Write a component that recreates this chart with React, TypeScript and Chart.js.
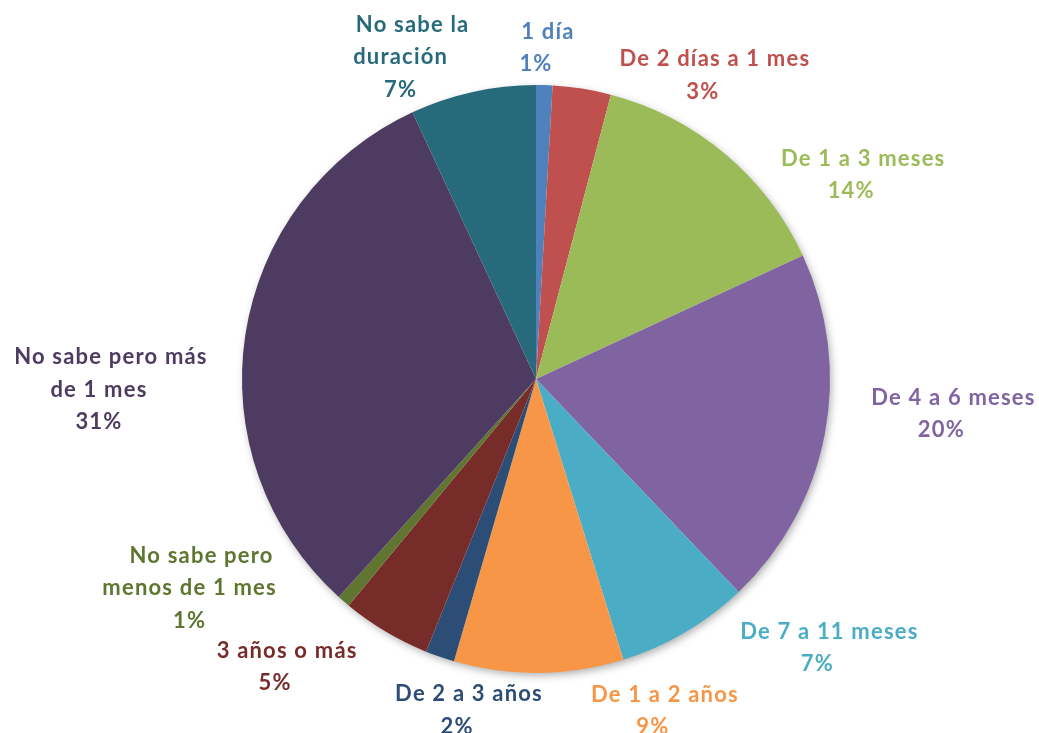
import React, { useEffect, useRef } from "react";
import { Chart, registerables } from "chart.js";

Chart.register(...registerables);

const categories = [
  "1 día",
  "De 2 días a 1 mes",
  "De 1 a 3 meses",
  "De 4 a 6 meses",
  "De 7 a 11 meses",
  "De 1 a 2 años",
  "De 2 a 3 años",
  "3 años o más",
  "No sabe pero menos de 1 mes",
  "No sabe pero más de 1 mes",
  "No sabe la duración",
];

const values = [0.9, 3.2, 14.0, 19.8, 7.3, 9.3, 1.6, 4.9, 0.7, 31.4, 6.9];

const labelLines = [
  ["1 día"],
  ["De 2 días a 1 mes"],
  ["De 1 a 3 meses"],
  ["De 4 a 6 meses"],
  ["De 7 a 11 meses"],
  ["De 1 a 2 años"],
  ["De 2 a 3 años"],
  ["3 años o más"],
  ["No sabe pero", "menos de 1 mes"],
  ["No sabe pero más", "de 1 mes"],
  ["No sabe la", "duración"],
];

const colors = [
  "#4F81BD",
  "#C0504D",
  "#9BBB59",
  "#8064A2",
  "#4BACC6",
  "#F79646",
  "#2C4D75",
  "#772C2A",
  "#5F7530",
  "#4D3B62",
  "#276A7C",
];

// label placement (polar, relative to the pie): angle in degrees clockwise from 12 o'clock,
// distance as multiple of the pie radius
const labelAngles = [0, 28.8, 57.1, 94.9, 133.7, 160.6, 193.4, 222.2, 238.9, 268.6, 337.2];
const labelDistances = [1.126, 1.178, 1.277, 1.384, 1.324, 1.197, 1.159, 1.321, 1.376, 1.487, 1.188];

const FONT = "bold 22px Lato, 'Open Sans', sans-serif";
const LETTER_SPACING = "1.2px";
const LINE_H = 32.5;
const FIRST_LINE_SHIFT = 12;

const shadowPlugin = {
  id: "pieShadow",
  beforeDatasetsDraw(chart: any) {
    const meta = chart.getDatasetMeta(0);
    const arc = meta.data[0];
    if (!arc) return;
    const ctx = chart.ctx;
    ctx.save();
    ctx.shadowColor = "rgba(0,0,0,0.35)";
    ctx.shadowBlur = 9;
    ctx.shadowOffsetX = 2;
    ctx.shadowOffsetY = 3;
    ctx.fillStyle = "#ffffff";
    ctx.beginPath();
    ctx.arc(arc.x, arc.y, arc.outerRadius - 1, 0, Math.PI * 2);
    ctx.fill();
    ctx.restore();
  },
};

const labelPlugin = {
  id: "outsideLabels",
  afterDatasetsDraw(chart: any) {
    const meta = chart.getDatasetMeta(0);
    const arc = meta.data[0];
    if (!arc) return;
    const cx = arc.x;
    const cy = arc.y;
    const r = arc.outerRadius;
    const total = values.reduce((a, b) => a + b, 0);
    const ctx = chart.ctx;
    ctx.save();
    ctx.font = FONT;
    try {
      (ctx as any).letterSpacing = LETTER_SPACING;
    } catch (e) {}
    ctx.textAlign = "center";
    ctx.textBaseline = "middle";
    values.forEach((v, i) => {
      const theta = ((labelAngles[i] - 90) * Math.PI) / 180;
      const lx = cx + Math.cos(theta) * labelDistances[i] * r;
      const ly = cy + Math.sin(theta) * labelDistances[i] * r;
      const pct = Math.round((v / total) * 100) + "%";
      const lines = [...labelLines[i], pct];
      const n = lines.length;
      ctx.fillStyle = colors[i];
      lines.forEach((t, k) => {
        const x = k === 0 ? lx + FIRST_LINE_SHIFT : lx;
        const y = ly - ((n - 1) * LINE_H) / 2 + k * LINE_H;
        ctx.fillText(t, x, y);
      });
    });
    ctx.restore();
  },
};

export default function App() {
  const canvasRef = useRef<HTMLCanvasElement | null>(null);

  useEffect(() => {
    if (!canvasRef.current) return;
    const chart = new Chart(canvasRef.current, {
      type: "pie",
      data: {
        labels: categories,
        datasets: [
          {
            data: values,
            backgroundColor: colors,
            borderWidth: 0,
          },
        ],
      },
      options: {
        responsive: false,
        animation: false,
        layout: {
          padding: { left: 242, right: 209, top: 85, bottom: 60 },
        },
        plugins: {
          legend: { display: false },
          tooltip: { enabled: false },
        },
      },
      plugins: [shadowPlugin, labelPlugin],
    });
    return () => chart.destroy();
  }, []);

  return (
    <div style={{ position: "absolute", left: 0, top: 0, width: 1039, height: 733, overflow: "hidden" }}>
      <canvas ref={canvasRef} width={1039} height={733} style={{ display: "block" }} />
    </div>
  );
}
